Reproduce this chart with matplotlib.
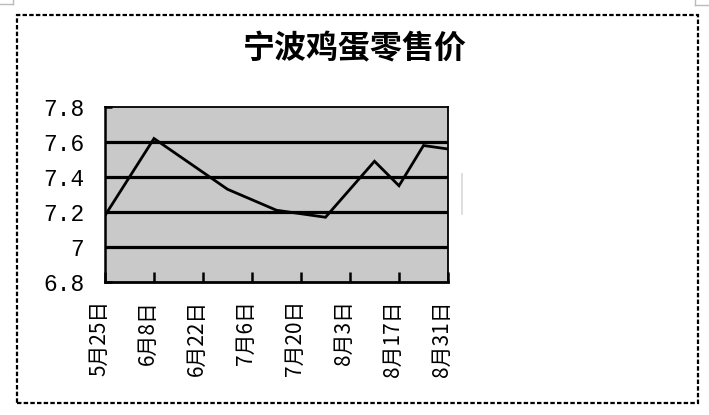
import matplotlib
matplotlib.use("Agg")
import matplotlib.pyplot as plt
import matplotlib.dates as mdates
import matplotlib.transforms as mtransforms
from matplotlib.patches import Rectangle
from matplotlib.lines import Line2D
import pandas as pd

plt.rcParams['font.family'] = ['Noto Sans CJK SC', 'DejaVu Sans']

# ---- data ----
title = "宁波鸡蛋零售价"
dates = ["2009-05-25", "2009-06-08", "2009-06-29", "2009-07-13", "2009-07-27",
         "2009-08-10", "2009-08-17", "2009-08-24", "2009-08-31"]
prices = [7.18, 7.62, 7.33, 7.21, 7.17, 7.49, 7.35, 7.58, 7.56]
tick_dates = ["2009-05-25", "2009-06-08", "2009-06-22", "2009-07-06",
              "2009-07-20", "2009-08-03", "2009-08-17", "2009-08-31"]
tick_labels = ["5月25日", "6月8日", "6月22日", "7月6日",
               "7月20日", "8月3日", "8月17日", "8月31日"]
y_ticks = [6.8, 7.0, 7.2, 7.4, 7.6, 7.8]
y_labels = ["6.8", "7", "7.2", "7.4", "7.6", "7.8"]

W, H = 709, 415
fig = plt.figure(figsize=(W / 100, H / 100), dpi=100)
fig.patch.set_facecolor('white')

ax = fig.add_axes([105 / W, 1 - 282 / H, (448 - 105) / W, (282 - 107) / H])
ax.set_facecolor('#c9c9c9')

x = pd.to_datetime(dates)
xt = pd.to_datetime(tick_dates)

for yv in [7.0, 7.2, 7.4, 7.6]:
    ax.axhline(yv, color='black', lw=2.3, zorder=1)

ax.plot(x, prices, color='black', lw=2.0, zorder=3, solid_joinstyle='miter')

ax.set_xlim(x[0], x[-1])
ax.set_ylim(6.8, 7.8)
ax.set_xticks(xt)
ax.set_xticklabels(tick_labels, rotation=90, fontsize=15, va='top', ha='center')
ax.set_yticks(y_ticks)
ax.set_yticklabels(y_labels, fontsize=16.5, family=['Liberation Mono', 'DejaVu Sans Mono'])

ax.tick_params(axis='x', direction='in', length=7, width=1.8, pad=13, color='black')
ax.tick_params(axis='y', direction='in', length=5, width=1.8, pad=15, color='black')

offset = mtransforms.ScaledTranslation(-6 / 100, 0, fig.dpi_scale_trans)
for lbl in ax.get_xticklabels():
    lbl.set_transform(lbl.get_transform() + offset)

for s in ax.spines.values():
    s.set_color('black')
    s.set_linewidth(1.3)
ax.spines['bottom'].set_linewidth(2.0)
ax.spines['left'].set_linewidth(1.8)

fig.text(355 / W, 1 - 49 / H, title, ha='center', va='center',
         fontsize=23, fontweight='bold', color='black')

# dashed outer border
fig.patches.append(Rectangle((17 / W, 1 - 403 / H), (698 - 17) / W, (403 - 15) / H,
                             transform=fig.transFigure, fill=False,
                             edgecolor='black', lw=1.6, linestyle=(0, (2, 1))))

# faint corner marks and gray stroke
def fl(x0, y0, x1, y1, c='#bbbbbb', lw=1.0):
    fig.add_artist(Line2D([x0 / W, x1 / W], [1 - y0 / H, 1 - y1 / H],
                          transform=fig.transFigure, color=c, lw=lw))

fl(0, 4, 13, 4)
fl(13, 0, 13, 4)
fl(695, 0, 695, 5)
fl(695, 5, 709, 5)
fl(462, 174, 462, 214, c='#d8d8d8', lw=1.2)

fig.savefig("out.png", dpi=100)
